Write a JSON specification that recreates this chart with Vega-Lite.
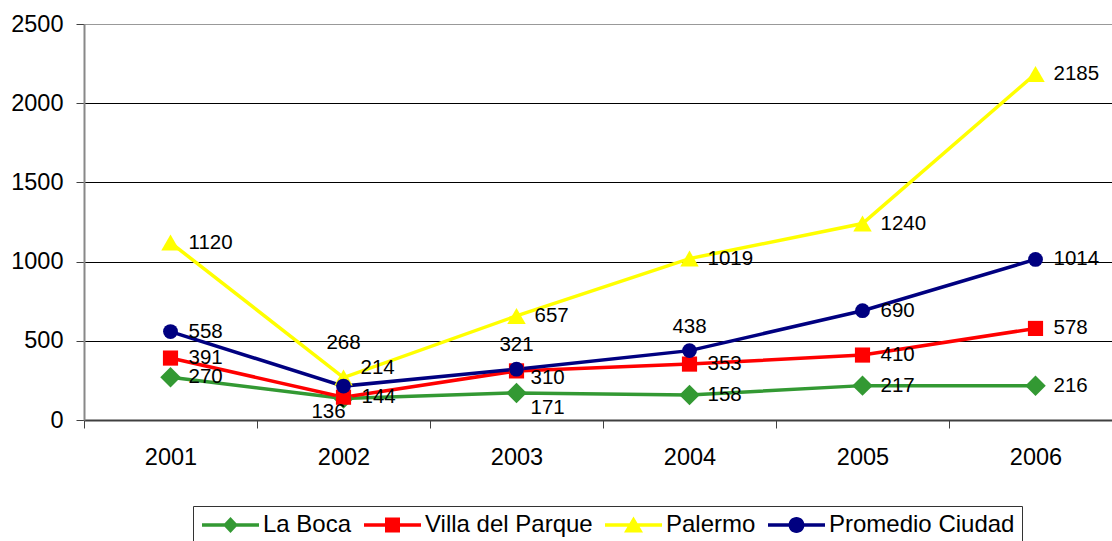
{
  "$schema": "https://vega.github.io/schema/vega-lite/v6.json",
  "width": 1028,
  "height": 396,
  "autosize": {"type": "none"},
  "padding": {"left": 84, "top": 24, "right": 0, "bottom": 121},
  "background": "white",
  "config": {"font": "Liberation Sans", "view": {"stroke": null}},
  "data": {
    "values": [
      {"series": "La Boca", "year": "2001", "value": 270},
      {"series": "La Boca", "year": "2002", "value": 136},
      {"series": "La Boca", "year": "2003", "value": 171},
      {"series": "La Boca", "year": "2004", "value": 158},
      {"series": "La Boca", "year": "2005", "value": 217},
      {"series": "La Boca", "year": "2006", "value": 216},
      {"series": "Villa del Parque", "year": "2001", "value": 391},
      {"series": "Villa del Parque", "year": "2002", "value": 144},
      {"series": "Villa del Parque", "year": "2003", "value": 310},
      {"series": "Villa del Parque", "year": "2004", "value": 353},
      {"series": "Villa del Parque", "year": "2005", "value": 410},
      {"series": "Villa del Parque", "year": "2006", "value": 578},
      {"series": "Palermo", "year": "2001", "value": 1120},
      {"series": "Palermo", "year": "2002", "value": 268},
      {"series": "Palermo", "year": "2003", "value": 657},
      {"series": "Palermo", "year": "2004", "value": 1019},
      {"series": "Palermo", "year": "2005", "value": 1240},
      {"series": "Palermo", "year": "2006", "value": 2185},
      {"series": "Promedio Ciudad", "year": "2001", "value": 558},
      {"series": "Promedio Ciudad", "year": "2002", "value": 214},
      {"series": "Promedio Ciudad", "year": "2003", "value": 321},
      {"series": "Promedio Ciudad", "year": "2004", "value": 438},
      {"series": "Promedio Ciudad", "year": "2005", "value": 690},
      {"series": "Promedio Ciudad", "year": "2006", "value": 1014}
    ]
  },
  "encoding": {
    "x": {
      "field": "year",
      "type": "ordinal",
      "scale": {"type": "band", "paddingInner": 0, "paddingOuter": 0, "range": [0, 1038]},
      "axis": {
        "title": null,
        "tickBand": "extent",
        "labelAngle": 0,
        "labelFontSize": 23.5,
        "labelColor": "#000",
        "tickSize": 8,
        "tickColor": "#404040",
        "tickWidth": 1,
        "domainColor": "#404040",
        "domainWidth": 2,
        "labelPadding": 17,
        "grid": false
      }
    },
    "y": {
      "field": "value",
      "type": "quantitative",
      "scale": {"domain": [0, 2500], "nice": false},
      "axis": {
        "title": null,
        "format": "d",
        "values": [0, 500, 1000, 1500, 2000, 2500],
        "labelFontSize": 23.5,
        "labelColor": "#000",
        "tickSize": 8,
        "tickColor": "#404040",
        "domainColor": "#888888",
        "domainWidth": 2,
        "labelPadding": 13,
        "grid": true,
        "gridColor": {"condition": {"test": "datum.value === 2500", "value": "#999999"}, "value": "#000000"},
        "gridWidth": 1
      }
    }
  },
  "resolve": {"legend": {"color": "independent", "shape": "independent"}},
  "layer": [
    {
      "mark": {"type": "line", "strokeWidth": 3.5},
      "encoding": {
        "color": {"field": "series", "type": "nominal", "scale": {"domain": ["La Boca", "Villa del Parque", "Palermo", "Promedio Ciudad"], "range": ["#339933", "#FF0000", "#FFFF00", "#000080"]}, "legend": null},
        "detail": {"field": "series"}
      }
    },
    {
      "transform": [{"filter": "datum.series === 'La Boca'"}],
      "mark": {"type": "point", "shape": "diamond", "filled": true, "size": 420, "opacity": 1},
      "encoding": {"color": {"field": "series", "type": "nominal", "legend": null}}
    },
    {
      "transform": [{"filter": "datum.series === 'Villa del Parque'"}],
      "mark": {"type": "point", "shape": "square", "filled": true, "size": 230, "opacity": 1},
      "encoding": {"color": {"field": "series", "type": "nominal", "legend": null}}
    },
    {
      "transform": [{"filter": "datum.series === 'Palermo'"}],
      "mark": {"type": "point", "shape": "triangle-up", "filled": true, "size": 340, "opacity": 1},
      "encoding": {"color": {"field": "series", "type": "nominal", "legend": null}}
    },
    {
      "transform": [{"filter": "datum.series === 'Promedio Ciudad'"}],
      "mark": {"type": "point", "shape": "circle", "filled": true, "size": 220, "opacity": 1},
      "encoding": {"color": {"field": "series", "type": "nominal", "legend": null}}
    },
    {
      "mark": {"type": "point", "filled": true, "opacity": 0, "size": 400},
      "encoding": {
        "color": {
          "field": "series",
          "type": "nominal",
          "legend": {
            "title": null,
            "orient": "none",
            "legendX": 109,
            "legendY": 482,
            "direction": "horizontal",
            "columns": 4,
            "symbolSize": 400,
            "symbolStrokeWidth": 0,
            "symbolOpacity": 1,
            "labelFontSize": 24,
            "labelFont": "Liberation Sans",
            "labelColor": "#000",
            "labelOffset": 39,
            "columnPadding": 10,
            "padding": 7,
            "strokeColor": "#333333",
            "fillColor": "white",
            "labelLimit": 400,
            "encode": {"symbols": {"update": {"opacity": {"value": 1}}}}
          }
        },
        "shape": {
          "field": "series",
          "type": "nominal",
          "scale": {
            "domain": ["La Boca", "Villa del Parque", "Palermo", "Promedio Ciudad"],
            "range": [
              "M-1,-0.17H4.7V0.17H-1ZM1.85,-0.8L2.6,0L1.85,0.8L1.1,0Z",
              "M-1,-0.17H4.7V0.17H-1ZM1.1,-0.75H2.6V0.75H1.1Z",
              "M-1,-0.17H4.7V0.17H-1ZM1.85,-0.85L2.8,0.75L0.9,0.75Z",
              "M-1,-0.17H4.7V0.17H-1ZM1.05,0A0.8,0.8 0 1,1 2.65,0A0.8,0.8 0 1,1 1.05,0Z"
            ]
          }
        }
      }
    },
    {
      "transform": [{"filter": "indexof(['Palermo|2002','Promedio Ciudad|2003','Promedio Ciudad|2004','La Boca|2002','La Boca|2003','Promedio Ciudad|2002','Villa del Parque|2003'], datum.series + '|' + datum.year) < 0"}],
      "mark": {"type": "text", "align": "left", "baseline": "middle", "dx": 18, "fontSize": 20.5, "color": "#000"},
      "encoding": {"text": {"field": "value", "type": "quantitative"}}
    },
    {
      "transform": [{"filter": "datum.series === 'Palermo' && datum.year === '2002'"}],
      "mark": {"type": "text", "align": "center", "baseline": "middle", "dx": 0, "dy": -35, "fontSize": 20.5, "color": "#000"},
      "encoding": {"text": {"field": "value", "type": "quantitative"}}
    },
    {
      "transform": [{"filter": "datum.series === 'Promedio Ciudad' && (datum.year === '2003' || datum.year === '2004')"}],
      "mark": {"type": "text", "align": "center", "baseline": "middle", "dx": 0, "dy": -24, "fontSize": 20.5, "color": "#000"},
      "encoding": {"text": {"field": "value", "type": "quantitative"}}
    },
    {
      "transform": [{"filter": "datum.series === 'La Boca' && datum.year === '2002'"}],
      "mark": {"type": "text", "align": "center", "baseline": "middle", "dx": -15, "dy": 14, "fontSize": 20.5, "color": "#000"},
      "encoding": {"text": {"field": "value", "type": "quantitative"}}
    },
    {
      "transform": [{"filter": "datum.series === 'La Boca' && datum.year === '2003'"}],
      "mark": {"type": "text", "align": "left", "baseline": "middle", "dx": 14, "dy": 15, "fontSize": 20.5, "color": "#000"},
      "encoding": {"text": {"field": "value", "type": "quantitative"}}
    },
    {
      "transform": [{"filter": "datum.series === 'Promedio Ciudad' && datum.year === '2002'"}],
      "mark": {"type": "text", "align": "left", "baseline": "middle", "dx": 17, "dy": -18, "fontSize": 20.5, "color": "#000"},
      "encoding": {"text": {"field": "value", "type": "quantitative"}}
    },
    {
      "transform": [{"filter": "datum.series === 'Villa del Parque' && datum.year === '2003'"}],
      "mark": {"type": "text", "align": "left", "baseline": "middle", "dx": 14, "dy": 7, "fontSize": 20.5, "color": "#000"},
      "encoding": {"text": {"field": "value", "type": "quantitative"}}
    }
  ]
}
